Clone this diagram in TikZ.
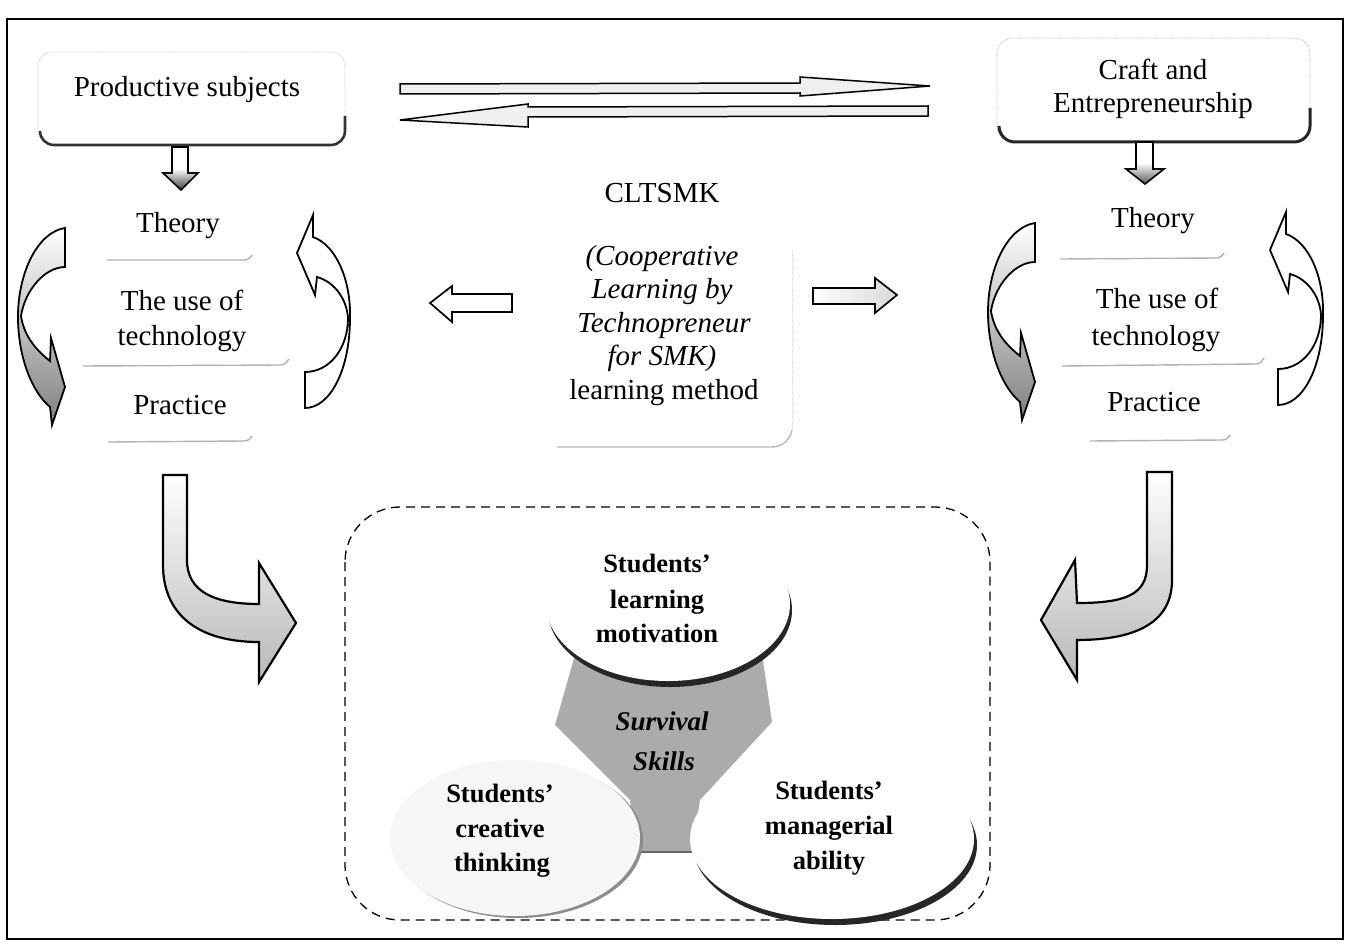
\documentclass[tikz,border=0pt]{standalone}
\usepackage{fontspec}
\setmainfont{Liberation Serif}
\begin{document}
\begin{tikzpicture}[x=1pt,y=-1pt,
  txt/.style={font=\fontsize{29}{35}\selectfont, inner sep=0pt, anchor=base},
  itx/.style={font=\fontsize{29}{35}\selectfont\itshape, inner sep=0pt, anchor=base},
  btx/.style={font=\fontsize{26.5}{35}\selectfont\bfseries, inner sep=0pt, anchor=base},
  sbx/.style={font=\fontsize{27}{35}\selectfont\bfseries\itshape, inner sep=0pt, anchor=base},
  blockarrow/.style={draw=black, line width=1.7, line join=miter},
  thinarrow/.style={draw=black, line width=1.5, fill=gray!12, line join=miter},
  sepline/.style={draw=gray!60, line width=1.4},
  cyclearrow/.style={draw=black, line width=1.8, line join=miter, fill=white}
]
\useasboundingbox (0,0) rectangle (1351,944);
\fill[white] (0,0) rectangle (1351,944);
% outer frame
\draw[line width=1.6] (7,19) rectangle (1343,939);

% ---------- top boxes ----------
\draw[gray!45, densely dotted, line width=0.8, rounded corners=14] (38,52) rectangle (345,145);
\draw[line width=2.6, black!80, rounded corners=14] (40,132) -- (40,145) -- (345,145) -- (345,116);
\node[txt] (prod) at (187,97) {Productive subjects};

\draw[gray!55, densely dotted, line width=0.9, rounded corners=16] (997,38) rectangle (1310,142);
\draw[line width=3, black!85, rounded corners=16] (999,128) -- (999,142) -- (1310,142) -- (1310,108);
\node[txt] (craft1) at (1153,80) {Craft and};
\node[txt] (craft2) at (1153,113) {Entrepreneurship};

% ---------- top thin double arrows ----------
\draw[thinarrow] (400,84) -- (800,83) -- (800,77) -- (930,86) -- (800,96) -- (800,93) -- (400,94) -- cycle;
\draw[thinarrow] (928,106) -- (528,107) -- (528,104) -- (400,120) -- (528,127) -- (528,117) -- (928,116) -- cycle;

% ---------- small down arrows ----------
\shade[top color=white, bottom color=black!75, middle color=white, draw=black, line width=1.6, line join=miter]
  (172,147) -- (188,147) -- (188,173) -- (198,173) -- (181,190) -- (163,173) -- (172,173) -- cycle;
\shade[top color=white, bottom color=black!65, middle color=white, draw=black, line width=1.6, line join=miter]
  (1136,142) -- (1153,142) -- (1153,169) -- (1164,169) -- (1145,184) -- (1126,169) -- (1136,169) -- cycle;

% ---------- left list ----------
\node[txt] (th1) at (178,232) {Theory};
\draw[sepline] (107,260) -- (244,260) .. controls (248,260) and (250,258) .. (252,255);
\node[txt] (us1) at (182,310) {The use of};
\node[txt] (te1) at (182,345) {technology};
\draw[sepline] (83,366) -- (280,365) .. controls (285,365) and (287,362) .. (289,359);
\node[txt] (pr1) at (180,414) {Practice};
\draw[sepline] (108,442) -- (244,441) .. controls (248,441) and (250,439) .. (252,436);

% ---------- right list ----------
\node[txt] (th2) at (1153,227) {Theory};
\draw[sepline] (1060,259) -- (1216,258) .. controls (1220,258) and (1222,256) .. (1224,253);
\node[txt] (us2) at (1157,308) {The use of};
\node[txt] (te2) at (1156,345) {technology};
\draw[sepline] (1062,366) -- (1256,364) .. controls (1260,364) and (1262,361) .. (1264,358);
\node[txt] (pr2) at (1154,411) {Practice};
\draw[sepline] (1090,441) -- (1222,440) .. controls (1226,440) and (1228,438) .. (1230,435);

% ---------- cycle arrows ----------
\foreach \dx/\dy in {0/0, 970/-5} {
  \begin{scope}[shift={(\dx,\dy)}]
    \shade[shading=axis, top color=white, middle color=white, bottom color=black!50]
      (65,228) .. controls (38,232) and (18,272) .. (18,317) .. controls (18,357) and (32,392) .. (50,407)
      -- (52,425) -- (65,387) -- (51,338) -- (50,361) .. controls (36,350) and (24,336) .. (21,316)
      .. controls (25,290) and (45,267) .. (65,267) -- cycle;
    \draw[line width=1.8, line join=miter]
      (65,228) .. controls (38,232) and (18,272) .. (18,317) .. controls (18,357) and (32,392) .. (50,407)
      -- (52,425) -- (65,387) -- (51,338) -- (50,361) .. controls (36,350) and (24,336) .. (21,316)
      .. controls (25,290) and (45,267) .. (65,267) -- cycle;
  \end{scope}
}
\foreach \dx/\dy in {0/0, 973/-3} {
  \begin{scope}[shift={(\dx,\dy)}]
    \draw[cyclearrow]
      (305,408) -- (305,372) .. controls (330,372) and (348,348) .. (348,318)
      .. controls (347,300) and (335,282) .. (317,277) -- (315,295) -- (297,253) -- (313,215) -- (313,237)
      .. controls (336,245) and (351,280) .. (350,318) .. controls (350,370) and (330,408) .. (305,408) -- cycle;
  \end{scope}
}

% ---------- central method box ----------
\draw[gray!30, densely dotted, line width=0.8] (792,250) -- (792,430);
\draw[gray!55, line width=1.4] (557,447) -- (772,447) .. controls (782,447) and (790,440) .. (792,430);
\node[txt] (clt) at (662,203) {CLTSMK};
\node[itx] (m1) at (662,265) {(Cooperative};
\node[itx] (m2) at (662,298) {Learning by};
\node[itx] (m3) at (664,332) {Technopreneur};
\node[itx] (m4) at (662,365) {for SMK)};
\node[txt] (m5) at (664,399) {learning method};

% side block arrows
\draw[blockarrow, fill=white] (512,294) -- (452,294) -- (452,286) -- (430,303) -- (452,322) -- (452,312) -- (512,312) -- cycle;
\shade[left color=white, right color=gray!30, draw=black, line width=1.7, line join=miter]
  (813,288) -- (875,288) -- (875,278) -- (897,295) -- (875,313) -- (875,304) -- (813,304) -- cycle;

% ---------- big bent arrows ----------
\shade[shading=axis, top color=white, middle color=white, bottom color=black!28, draw=black, line width=2.2, line join=miter]
  (163,475) -- (187,475) -- (187,560) .. controls (187,592) and (215,604) .. (259,604) -- (259,563)
  -- (296,623) -- (259,682) -- (259,642) .. controls (195,642) and (163,612) .. (163,565) -- cycle;
\shade[shading=axis, top color=white, middle color=white, bottom color=black!28, draw=black, line width=2.2, line join=miter]
  (1147,472) -- (1172,472) -- (1172,580) .. controls (1172,620) and (1140,640) .. (1077,640) -- (1077,680)
  -- (1041,620) -- (1075,560) -- (1077,603) .. controls (1125,603) and (1147,595) .. (1147,565) -- cycle;

% ---------- survival skills area ----------
\draw[dashed, dash pattern=on 9pt off 6pt, line width=1.3, rounded corners=55] (345,507) rectangle (990,920);

\fill[black!33] (575,655) -- (760,640) -- (772,722) -- (700,800) -- (692,852) -- (636,852) -- (630,800) -- (555,725) -- cycle;
\draw[black!60, line width=1.5] (636,852) -- (692,852);

% shadows
\fill[black!85] (670,610) ellipse [x radius=122pt, y radius=77pt];
\fill[black!45] (518,840) ellipse [x radius=125pt, y radius=78pt];
\fill[black!85] (835,845) ellipse [x radius=142pt, y radius=80pt];
% discs
\fill[white] (668,604) ellipse [x radius=122pt, y radius=77pt];
\fill[gray!7] (515,838) ellipse [x radius=125pt, y radius=78pt];
\fill[white] (832,839) ellipse [x radius=142pt, y radius=80pt];

\node[btx] (a1) at (657,572) {Students’};
\node[btx] (a2) at (657,608) {learning};
\node[btx] (a3) at (657,642) {motivation};

\node[btx] (b1) at (500,802) {Students’};
\node[btx] (b2) at (500,837) {creative};
\node[btx] (b3) at (502,871) {thinking};

\node[btx] (c1) at (829,799) {Students’};
\node[btx] (c2) at (829,834) {managerial};
\node[btx] (c3) at (829,869) {ability};

\node[sbx] (s1) at (662,730) {Survival};
\node[sbx] (s2) at (664,770) {Skills};
\end{tikzpicture}
\end{document}
